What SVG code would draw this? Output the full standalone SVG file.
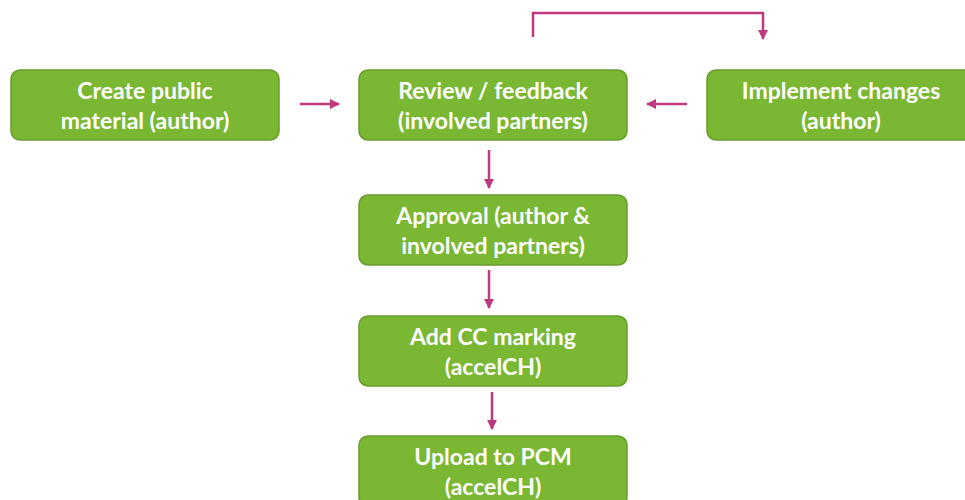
<svg xmlns="http://www.w3.org/2000/svg" width="965" height="500" viewBox="0 0 965 500">
  <defs>
    <marker id="ah" viewBox="0 0 10 10" refX="9" refY="5" markerWidth="4" markerHeight="4" orient="auto" markerUnits="strokeWidth">
      <path d="M0,0 L10,5 L0,10 Z" fill="#c0387f"/>
    </marker>
  </defs>
  <style>
    .box { fill: #7ab733; stroke: #689c2c; stroke-width: 1.5; }
    .lbl { font-family: Lato, "Open Sans", "Liberation Sans", sans-serif; font-weight: 700; font-size: 23px; fill: #ffffff; text-anchor: middle; }
    .con { fill: none; stroke: #c0387f; stroke-width: 2.5; marker-end: url(#ah); }
  </style>
  <rect width="965" height="500" fill="#ffffff"/>

  <g id="create">
    <rect class="box" x="11" y="70" width="268" height="70" rx="9"/>
    <text class="lbl" x="145" y="99">Create public</text>
    <text class="lbl" x="145" y="129">material (author)</text>
  </g>
  <g id="review">
    <rect class="box" x="359" y="70" width="268" height="70" rx="9"/>
    <text class="lbl" x="493" y="99">Review / feedback</text>
    <text class="lbl" x="493" y="129">(involved partners)</text>
  </g>
  <g id="implement">
    <rect class="box" x="707" y="70" width="268" height="70" rx="9"/>
    <text class="lbl" x="841" y="99">Implement changes</text>
    <text class="lbl" x="841" y="129">(author)</text>
  </g>
  <g id="approval">
    <rect class="box" x="359" y="195" width="268" height="70" rx="9"/>
    <text class="lbl" x="493" y="224">Approval (author &amp;</text>
    <text class="lbl" x="493" y="254">involved partners)</text>
  </g>
  <g id="marking">
    <rect class="box" x="359" y="316" width="268" height="70" rx="9"/>
    <text class="lbl" x="493" y="345">Add CC marking</text>
    <text class="lbl" x="493" y="375">(accelCH)</text>
  </g>
  <g id="upload">
    <rect class="box" x="359" y="436" width="268" height="70" rx="9"/>
    <text class="lbl" x="493" y="465">Upload to PCM</text>
    <text class="lbl" x="493" y="495">(accelCH)</text>
  </g>

  <g id="connectors">
    <path class="con" d="M300,104 H339"/>
    <path class="con" d="M687,104 H647"/>
    <path class="con" d="M533,37 V13 H763 V39"/>
    <path class="con" d="M489,150 V188"/>
    <path class="con" d="M489,270 V308"/>
    <path class="con" d="M492,392 V429"/>
  </g>
</svg>
